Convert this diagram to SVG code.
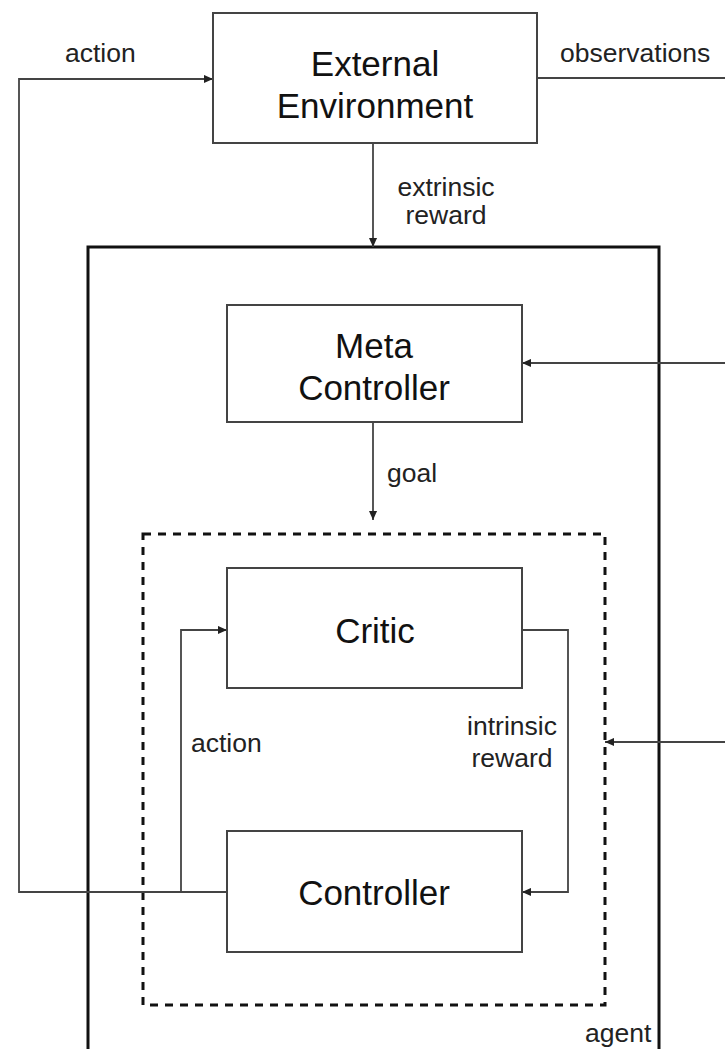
<svg xmlns="http://www.w3.org/2000/svg" width="725" height="1049" viewBox="0 0 725 1049">
  <defs>
    <marker id="arrow" viewBox="0 0 10 10" refX="10" refY="5" markerWidth="10" markerHeight="9" markerUnits="userSpaceOnUse" orient="auto">
      <path d="M0,0.5 L10,5 L0,9.5 Z" fill="#222"/>
    </marker>
    <style>
      .box { fill: #fff; stroke: #444; stroke-width: 2; }
      .agent { fill: none; stroke: #111; stroke-width: 3; }
      .dash { fill: none; stroke: #111; stroke-width: 3; stroke-dasharray: 8 7; }
      .wire { fill: none; stroke: #444; stroke-width: 1.8; }
      .big { font-family: "Liberation Sans", Arial, sans-serif; font-size: 35px; fill: #111; text-anchor: middle; }
      .lbl { font-family: "Liberation Sans", Arial, sans-serif; font-size: 26.5px; fill: #222; }
    </style>
  </defs>
  <rect width="725" height="1049" fill="#fff"/>

  <!-- agent boundary (runs past the bottom edge) -->
  <g id="agent">
    <rect class="agent" x="88" y="247" width="571" height="830"/>
    <text class="lbl" x="585" y="1042">agent</text>
  </g>

  <!-- dashed enclosure around critic and controller -->
  <g id="inner-loop">
    <rect class="dash" x="143" y="534" width="462" height="471"/>
  </g>

  <g id="connectors">
    <!-- action to environment -->
    <polyline class="wire" points="227,892 19,892 19,79 213,79" marker-end="url(#arrow)"/>
    <!-- observations out -->
    <line class="wire" x1="537" y1="78" x2="725" y2="78"/>
    <!-- extrinsic reward -->
    <line class="wire" x1="373" y1="143" x2="373" y2="247" marker-end="url(#arrow)"/>
    <!-- observations into meta controller -->
    <line class="wire" x1="725" y1="363" x2="522" y2="363" marker-end="url(#arrow)"/>
    <!-- goal -->
    <line class="wire" x1="373" y1="422" x2="373" y2="520" marker-end="url(#arrow)"/>
    <!-- action into critic -->
    <polyline class="wire" points="181,892 181,630 227,630" marker-end="url(#arrow)"/>
    <!-- intrinsic reward into controller -->
    <polyline class="wire" points="522,630 568,630 568,892 522,892" marker-end="url(#arrow)"/>
    <!-- observations into inner loop -->
    <line class="wire" x1="725" y1="742" x2="605" y2="742" marker-end="url(#arrow)"/>
  </g>

  <g id="external-environment">
    <rect class="box" x="213" y="13" width="324" height="130"/>
    <text class="big" x="375" y="76">External</text>
    <text class="big" x="375" y="118">Environment</text>
  </g>

  <g id="meta-controller">
    <rect class="box" x="227" y="305" width="295" height="117"/>
    <text class="big" x="374" y="358">Meta</text>
    <text class="big" x="374" y="400">Controller</text>
  </g>

  <g id="critic">
    <rect class="box" x="227" y="568" width="295" height="120"/>
    <text class="big" x="375" y="643">Critic</text>
  </g>

  <g id="controller">
    <rect class="box" x="227" y="831" width="295" height="121"/>
    <text class="big" x="374" y="905">Controller</text>
  </g>

  <g id="labels">
    <text class="lbl" x="65" y="62">action</text>
    <text class="lbl" x="560" y="62">observations</text>
    <text class="lbl" x="446" y="196" text-anchor="middle">extrinsic</text>
    <text class="lbl" x="446" y="224" text-anchor="middle">reward</text>
    <text class="lbl" x="387" y="482">goal</text>
    <text class="lbl" x="191" y="752">action</text>
    <text class="lbl" x="512" y="735" text-anchor="middle">intrinsic</text>
    <text class="lbl" x="512" y="767" text-anchor="middle">reward</text>
  </g>
</svg>
